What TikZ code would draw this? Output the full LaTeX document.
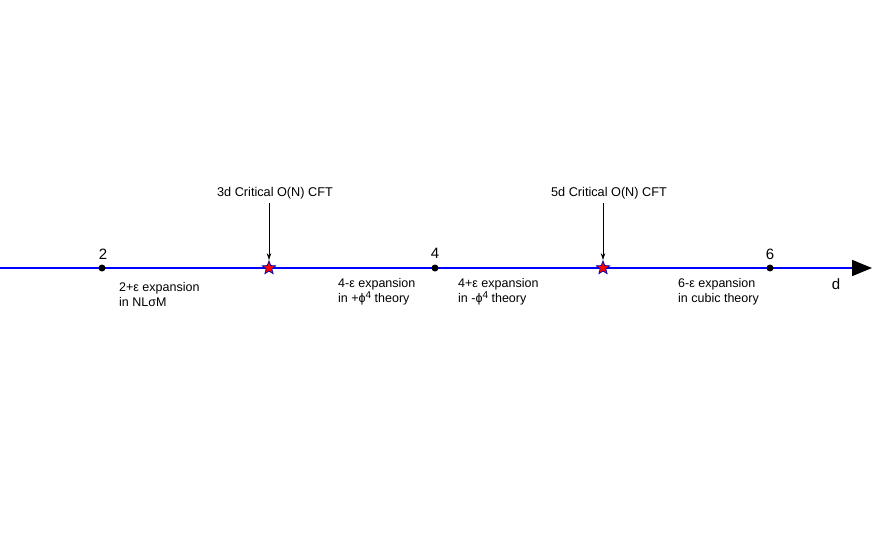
\documentclass[tikz,border=0pt]{standalone}
\usepackage{fontspec}
\setmainfont{Liberation Sans}
\usetikzlibrary{arrows.meta,shapes.geometric}
\newcommand{\supfour}{\raisebox{4.5pt}{\fontsize{10}{10}\selectfont 4}}
\begin{document}
\begin{tikzpicture}[x=1pt,y=-1pt,
  axisline/.style={draw=blue,line width=1.6pt},
  pt/.style={circle,fill=black,inner sep=0pt,minimum size=7pt},
  crit/.style={star,star points=5,star point ratio=2.3,fill=red,draw=blue!70!black,line width=0.7pt,inner sep=0pt,minimum size=14pt},
  num/.style={font=\fontsize{15}{17}\selectfont,anchor=base},
  lab/.style={font=\fontsize{12.5}{15.5}\selectfont,align=left,anchor=north west,inner sep=0pt},
  toplab/.style={font=\fontsize{12.7}{14}\selectfont,inner sep=0pt},
  pointer/.style={draw=black,line width=0.5pt,-{Stealth[length=7pt,width=4.5pt]}}]
\useasboundingbox (0,0) rectangle (872,538);
\coordinate (start) at (0,268);
\coordinate (end) at (872,268);
\draw[axisline,-{Triangle[length=20pt,width=16pt,color=black,fill=black]}] (start) -- (end);
\node[pt] (p2) at (102,268) {};
\node[pt] (p4) at (435,268) {};
\node[pt] (p6) at (770,268) {};
\node[crit] (s3) at (269,268) {};
\node[crit] (s5) at (603,268) {};
\node[num] (n2) at (103,259) {2};
\node[num] (n4) at (435,258) {4};
\node[num] (n6) at (770,259) {6};
\node[num] (nd) at (836,289) {d};
\node[toplab] (t3) at (275,193) {3d Critical O(N) CFT};
\node[toplab] (t5) at (609,193) {5d Critical O(N) CFT};
\draw[pointer] (269,203) -- (s3.north);
\draw[pointer] (603,203) -- (s5.north);
\node[lab] (e2) at (119,282) {2+ε expansion\\in NLσM};
\node[lab] (e4m) at (338,278) {4-ε expansion\\in +ϕ\supfour{} theory};
\node[lab] (e4p) at (458,278) {4+ε expansion\\in -ϕ\supfour{} theory};
\node[lab] (e6) at (678,278) {6-ε expansion\\in cubic theory};
\end{tikzpicture}
\end{document}
